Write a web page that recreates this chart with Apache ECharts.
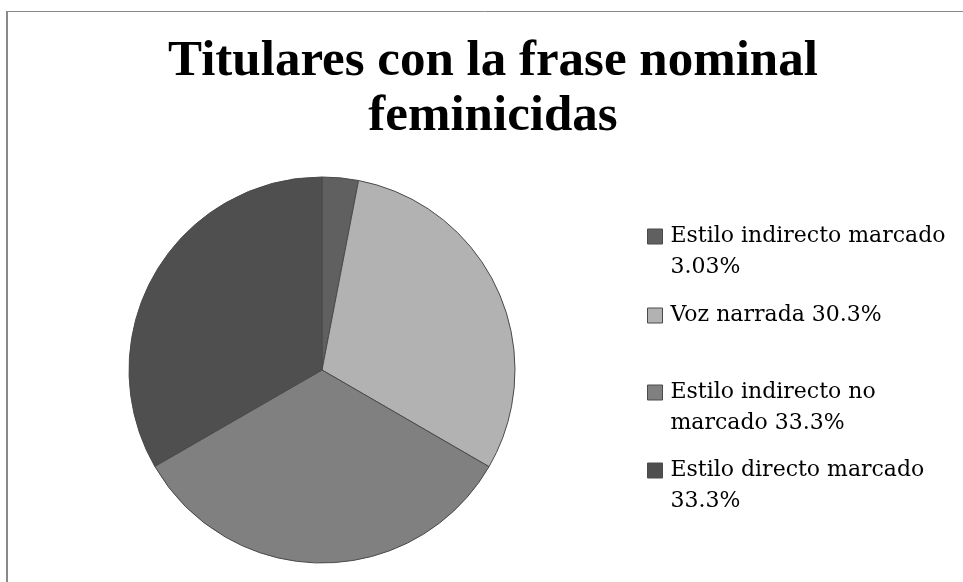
<!DOCTYPE html>
<html>
<head>
<meta charset="utf-8">
<script src="https://cdn.jsdelivr.net/npm/echarts@6/dist/echarts.min.js"></script>
<style>
  html, body { margin: 0; padding: 0; background: #fff; }
  #chart { width: 963px; height: 582px; }
</style>
</head>
<body>
<div id="chart"></div>
<script>
// datos
const categories = ['Estilo indirecto marcado', 'Voz narrada', 'Estilo indirecto no marcado', 'Estilo directo marcado'];
const percents = [3.03, 30.3, 33.3, 33.3];
const legendLabels = ['Estilo indirecto marcado\n3.03%', 'Voz narrada 30.3%', 'Estilo indirecto no\nmarcado 33.3%', 'Estilo directo marcado\n33.3%'];
const titleLines = ['Titulares con la frase nominal', 'feminicidas'];
const colors = ['#606060', '#b2b2b2', '#808080', '#4f4f4f'];

const legendTops = [190, 300, 346, 424];

const chart = echarts.init(document.getElementById('chart'));

const legends = categories.map((name, i) => ({
  data: [name],
  orient: 'vertical',
  left: 647,
  top: legendTops[i],
  padding: 0,
  icon: 'rect',
  itemWidth: 15,
  itemHeight: 15,
  itemStyle: { borderColor: '#4a4a4a', borderWidth: 1 },
  selectedMode: false,
  // leading blank line keeps the square level with the first text line
  formatter: () => (legendLabels[i].indexOf('\n') >= 0 ? '\n' : '') + legendLabels[i],
  textStyle: {
    fontFamily: 'DejaVu Serif',
    fontSize: 22,
    lineHeight: 31,
    color: '#000',
    padding: [0, 0, 0, 3],
  },
}));

const option = {
  animation: false,
  color: colors,
  title: {
    text: titleLines.join('\n'),
    // centred a little right of the canvas middle, as in the original
    left: 493,
    top: 34,
    padding: 0,
    textAlign: 'center',
    textStyle: {
      fontFamily: 'Liberation Serif',
      fontWeight: 'bold',
      fontSize: 51,
      lineHeight: 55,
      color: '#000',
    },
  },
  legend: legends,
  graphic: [
    { type: 'line', shape: { x1: 7, y1: 11, x2: 7, y2: 582 }, style: { stroke: '#898989', lineWidth: 2 } },
    { type: 'line', shape: { x1: 6, y1: 11.5, x2: 963, y2: 11.5 }, style: { stroke: '#898989', lineWidth: 1 } },
  ],
  series: [
    {
      type: 'pie',
      center: [322, 370],
      radius: 193,
      startAngle: 90,
      clockwise: true,
      label: { show: false },
      labelLine: { show: false },
      emphasis: { disabled: true },
      itemStyle: { borderColor: '#4a4a4a', borderWidth: 1 },
      data: categories.map((name, i) => ({ name, value: percents[i] })),
    },
  ],
};

chart.setOption(option);
</script>
</body>
</html>
